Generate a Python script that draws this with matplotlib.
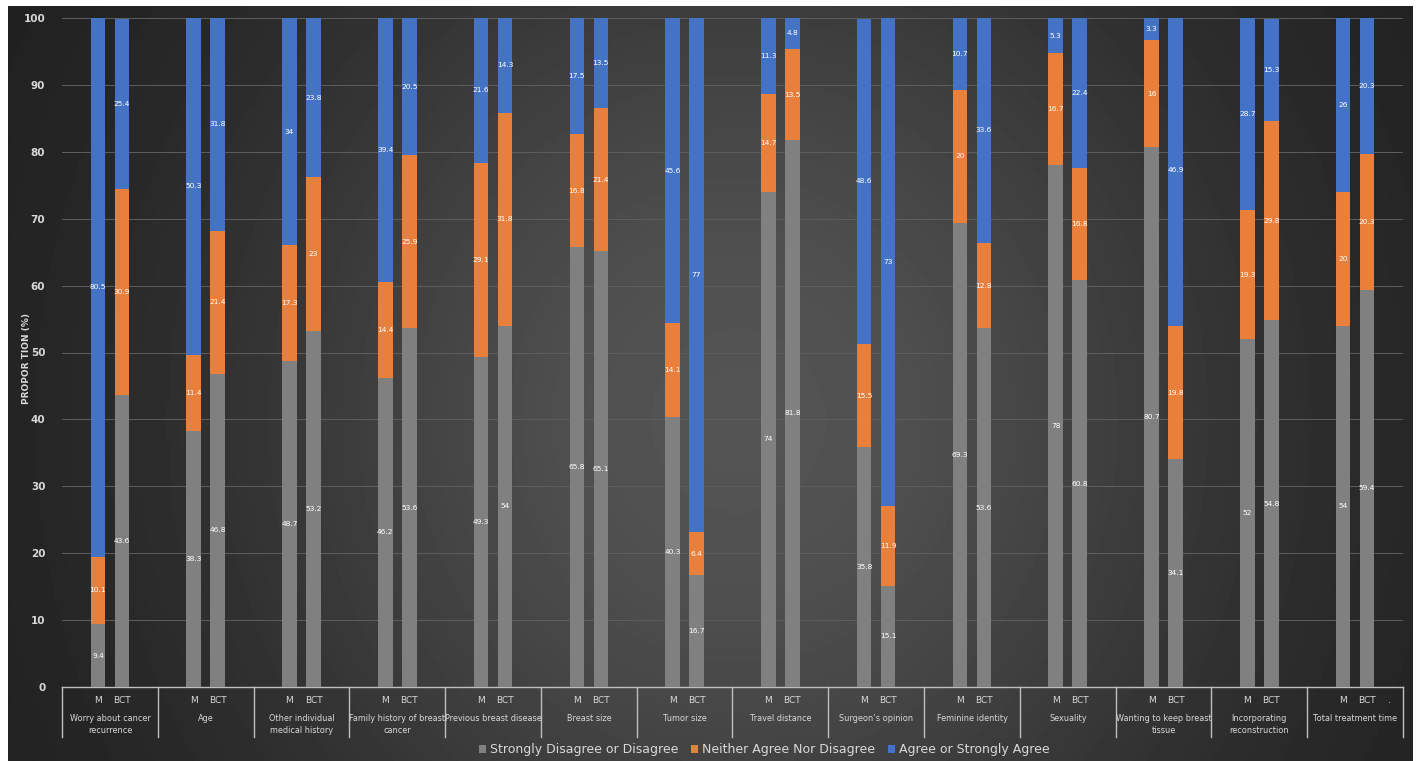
import numpy as np
import matplotlib
matplotlib.use("Agg")
import matplotlib.pyplot as plt
from matplotlib.patches import Patch
from matplotlib.transforms import blended_transform_factory

categories = ["Worry about cancer\nrecurrence", "Age", "Other individual\nmedical history",
              "Family history of breast\ncancer", "Previous breast disease", "Breast size",
              "Tumor size", "Travel distance", "Surgeon\u2019s opinion", "Feminine identity",
              "Sexuality", "Wanting to keep breast\ntissue", "Incorporating\nreconstruction",
              "Total treatment time"]
groups = ["M", "BCT"]
series_names = ["Strongly Disagree or Disagree", "Neither Agree Nor Disagree", "Agree or Strongly Agree"]

disagree_M   = [9.4, 38.3, 48.7, 46.2, 49.3, 65.8, 40.3, 74, 35.8, 69.3, 78, 80.7, 52, 54]
neither_M    = [10.1, 11.4, 17.3, 14.4, 29.1, 16.8, 14.1, 14.7, 15.5, 20, 16.7, 16, 19.3, 20]
agree_M      = [80.5, 50.3, 34, 39.4, 21.6, 17.5, 45.6, 11.3, 48.6, 10.7, 5.3, 3.3, 28.7, 26]
disagree_BCT = [43.6, 46.8, 53.2, 53.6, 54, 65.1, 16.7, 81.8, 15.1, 53.6, 60.8, 34.1, 54.8, 59.4]
neither_BCT  = [30.9, 21.4, 23, 25.9, 31.8, 21.4, 6.4, 13.5, 11.9, 12.8, 16.8, 19.8, 29.8, 20.3]
agree_BCT    = [25.4, 31.8, 23.8, 20.5, 14.3, 13.5, 77, 4.8, 73, 33.6, 22.4, 46.9, 15.3, 20.3]

colors = ["#808080", "#E8803C", "#4472C4"]
txtc = "#d9d9d9"

W, H = 1416, 761
fig = plt.figure(figsize=(W / 100, H / 100), dpi=100, facecolor="white")

# background gradient
bg = fig.add_axes([8 / W, 0, (W - 11) / W, (H - 6) / H], zorder=-10)
xs = np.linspace(0, 1, 400)
ys = np.linspace(0, 1, 220)
X, Y = np.meshgrid(xs, ys)
val = 0.11 + 0.22 * np.exp(-((X - 0.52) / 0.38) ** 2 - ((Y - 0.45) / 0.75) ** 2)
bg.imshow(val, cmap="gray", vmin=0, vmax=1, aspect="auto", extent=[0, 1, 0, 1], origin="lower")
bg.set_axis_off()

left, right = 62 / W, 1403 / W
bottom, top = (H - 687) / H, (H - 18) / H
ax = fig.add_axes([left, bottom, right - left, top - bottom])
ax.set_facecolor("none")

n = len(categories)
x = np.arange(n)
off = 0.125
bw = 0.152
series_M = [disagree_M, neither_M, agree_M]
series_B = [disagree_BCT, neither_BCT, agree_BCT]

for pos, ser in [(x - off, series_M), (x + off, series_B)]:
    base = np.zeros(n)
    for vals, c in zip(ser, colors):
        vals = np.array(vals, dtype=float)
        ax.bar(pos, vals, bw, bottom=base, color=c, linewidth=0, zorder=3)
        for xi, b, v in zip(pos, base, vals):
            lab = f"{v:g}"
            ax.text(xi, b + v / 2, lab, ha="center", va="center", fontsize=5.4,
                    color="white", zorder=4)
        base = base + vals

ax.set_xlim(-0.5, n - 0.5)
ax.set_ylim(0, 100)
ax.set_yticks(np.arange(0, 101, 10))
ax.tick_params(axis="y", length=0, colors=txtc, labelsize=7.5, pad=12)
for t in ax.get_yticklabels():
    t.set_fontweight("bold")
ax.set_xticks([])
ax.grid(axis="y", color="#5e5e5e", linewidth=0.7, zorder=0)
for s in ["top", "right", "left"]:
    ax.spines[s].set_visible(False)
ax.spines["bottom"].set_color("#bfbfbf")
ax.spines["bottom"].set_linewidth(1.0)

tr = blended_transform_factory(ax.transData, ax.transAxes)
for i in range(n + 1):
    ax.plot([i - 0.5, i - 0.5], [0, -0.075], transform=tr, color="#bfbfbf",
            linewidth=1.0, clip_on=False)
for i, cat in enumerate(categories):
    ax.text(i - off, -0.0195, groups[0], transform=tr, ha="center", va="center",
            fontsize=6.5, color=txtc)
    ax.text(i + off, -0.0195, groups[1], transform=tr, ha="center", va="center",
            fontsize=6.5, color=txtc)
    ax.text(i, -0.0405, cat, transform=tr, ha="center", va="top", fontsize=5.9,
            color=txtc, linespacing=1.4)
ax.text(n - 1 + 0.36, -0.0195, ".", transform=tr, ha="center", va="center",
        fontsize=6.5, color=txtc)

fig.text(27 / W, (H - 358) / H, "PROPOR TION (%)", rotation=90, ha="center", va="center",
         fontsize=6.5, fontweight="bold", color=txtc)

handles = [Patch(facecolor=c, edgecolor="none") for c in colors]
leg = fig.legend(handles, series_names, loc="center", bbox_to_anchor=(764 / W, 11 / H),
                 ncol=3, frameon=False, fontsize=9.0, handlelength=0.6, handleheight=0.6,
                 handletextpad=0.3, columnspacing=1.0)
for t in leg.get_texts():
    t.set_color(txtc)

fig.savefig("out.png", dpi=100, facecolor=fig.get_facecolor())
